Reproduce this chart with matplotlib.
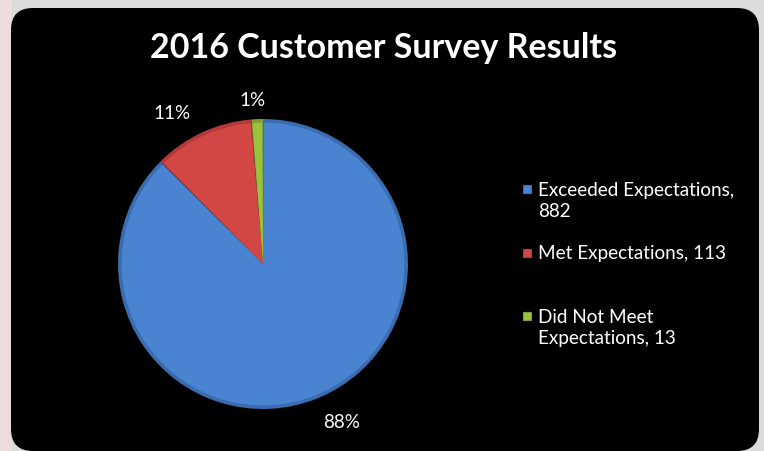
import matplotlib.pyplot as plt
import numpy as np
from matplotlib.patches import FancyBboxPatch, Wedge

categories = ['Exceeded Expectations', 'Met Expectations', 'Did Not Meet Expectations']
counts = [882, 113, 13]
legend_labels = ['Exceeded Expectations,\n882', 'Met Expectations, 113', 'Did Not Meet\nExpectations, 13']
colors = ['#4a84d0', '#d24744', '#9cc13f']
edge_colors = ['#3a6cb0', '#b33a38', '#7f9f30']

W, H = 764, 452
plt.rcParams['font.family'] = ['Lato', 'DejaVu Sans']

fig = plt.figure(figsize=(W / 100, H / 100), dpi=100)
fig.patch.set_facecolor('#dcdcdc')

# background layer in pixel coordinates
bg = fig.add_axes([0, 0, 1, 1])
bg.set_xlim(0, W)
bg.set_ylim(H, 0)
bg.axis('off')
bg.add_patch(plt.Rectangle((0, 0), 12, H, facecolor='#ecdcdc', edgecolor='none'))
bg.add_patch(FancyBboxPatch((11, 9), 748, 443, boxstyle='round,pad=0,rounding_size=22',
                            facecolor='black', edgecolor='none'))

bg.text(384, 48, '2016 Customer Survey Results', color='white', fontsize=24.5,
        fontweight='bold', ha='center', va='center')

# pie
cx, cy, r = 263, 265, 145
ax = fig.add_axes([(cx - r) / W, (H - cy - r) / H, 2 * r / W, 2 * r / H])
wedges, texts, autotexts = ax.pie(counts, colors=edge_colors, startangle=90, counterclock=False,
                                  autopct='%1.0f%%', pctdistance=1.22,
                                  wedgeprops=dict(linewidth=0),
                                  textprops=dict(color='white', fontsize=13.5))
# lighter inner face for a bevelled look
for w, c in zip(wedges, colors):
    ax.add_patch(Wedge(w.center, 0.975, w.theta1 + 0.4, w.theta2 - 0.4, facecolor=c, edgecolor='none'))

# nudge the percentage labels around the rim
label_shift = [(4, 1.21), (6, 1.22), (1.2, 1.14)]
for w, t, (da, dist) in zip(wedges, autotexts, label_shift):
    ang = np.deg2rad((w.theta1 + w.theta2) / 2 + da)
    t.set_position((dist * np.cos(ang), dist * np.sin(ang)))

ax.set_xlim(-1, 1)
ax.set_ylim(-1, 1)
ax.set_aspect('equal')

# legend
ys = [201, 254, 328]
for y, lab, c, ec in zip(ys, legend_labels, colors, edge_colors):
    bg.add_patch(plt.Rectangle((523, y - 4 - (11 if '\n' in lab else 0)), 8, 8, facecolor=c, edgecolor=ec, linewidth=0.8))
    bg.text(538, y, lab, color='white', fontsize=13.6, ha='left', va='center', linespacing=1.25)

fig.savefig('out.png', dpi=100, facecolor=fig.get_facecolor())
